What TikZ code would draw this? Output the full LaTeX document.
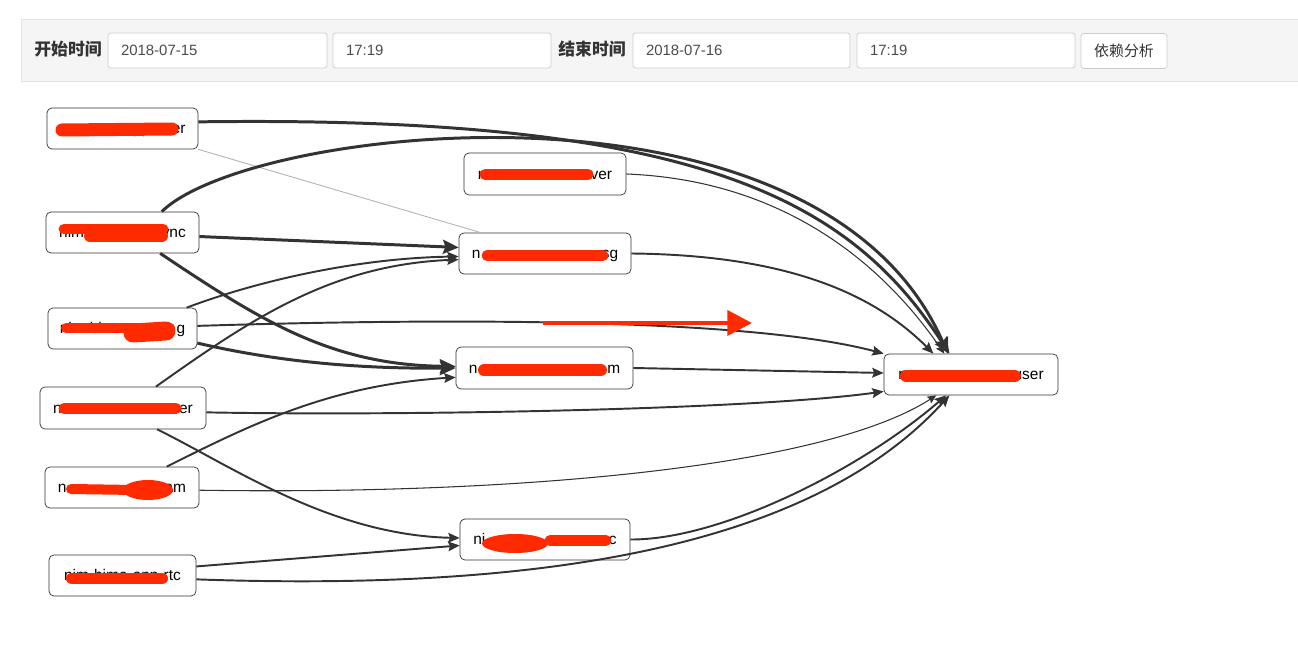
\documentclass[tikz,border=0pt]{standalone}
\usepackage{fontspec}
\setmainfont{Liberation Sans}
\newfontfamily\cjk{Noto Sans CJK SC}
\usetikzlibrary{arrows.meta}
\definecolor{ink}{RGB}{51,51,51}
\definecolor{redact}{RGB}{255,42,0}
\definecolor{barbg}{RGB}{245,245,245}
\definecolor{barline}{RGB}{227,227,227}
\definecolor{fieldline}{RGB}{204,204,204}
\begin{document}
\begin{tikzpicture}[x=0.02cm,y=-0.02cm,
    svc/.style={draw=ink, rounded corners=2.8pt, inner sep=0pt, minimum height=0.82cm, text height=6.2pt, text depth=0pt, font=\fontsize{8.8}{10.5}\selectfont},
    field/.style={draw=fieldline, fill=white, rounded corners=1.5pt, minimum height=0.7cm, inner xsep=0.26cm, align=left, text=black!70, font=\fontsize{8.5}{10}\selectfont},
    caption/.style={text=ink, font=\cjk\bfseries\fontsize{9.6}{11}\selectfont},
    dep/.style={draw=ink, line width=1.1pt, -{Stealth[length=6.5pt,width=5.5pt,inset=1pt]}},
    heavy/.style={dep, line width=1.7pt, -{Stealth[length=9pt,width=8pt,inset=1.5pt]}},
    light/.style={dep, line width=0.6pt, -{Stealth[length=5pt,width=4.5pt,inset=0.8pt]}},
    blot/.style={draw=redact, line cap=round}]
  \useasboundingbox (0,0) rectangle (1298,648);
  \filldraw[fill=barbg, draw=barline] (21,19) rectangle (1320,81);
  \node[caption] (T0) at (68,49) {开始时间};
  \node[field, text width=3.86cm] (D0) at (217.5,50.5) {2018-07-15};
  \node[field, text width=3.84cm] (C0) at (442,50.5) {17:19};
  \node[caption] (T1) at (592,49) {结束时间};
  \node[field, text width=3.82cm] (D1) at (741.5,50.5) {2018-07-16};
  \node[field, text width=3.84cm] (C1) at (966,50.5) {17:19};
  \node[field, minimum width=1.72cm, inner xsep=0pt, align=center, text=ink, font=\cjk\fontsize{8.5}{10}\selectfont] (go) at (1124,51) {依赖分析};
  \node[svc, minimum width=3.02cm] (A0_0) at (122.5,128.5) {\hspace*{42pt}pp-user};
  \node[svc, minimum width=3.06cm] (A0_1) at (122.5,232.5) {nim\hspace*{39.8pt}sync};
  \node[svc, minimum width=2.98cm] (A0_2) at (122.5,328.5) {nim-bima\hspace*{30.3pt}g};
  \node[svc, minimum width=3.32cm, minimum height=0.84cm] (A0_3) at (123,408) {n\hspace*{66.7pt}er};
  \node[svc, minimum width=3.08cm] (A0_4) at (122,487.5) {n\hspace*{55.8pt}am};
  \node[svc, minimum width=2.94cm] (A0_5) at (122.5,575.5) {nim-bima-app-rtc};
  \node[svc, minimum width=3.24cm, minimum height=0.84cm] (A1_0) at (545,174) {n\hspace*{59.3pt}ver};
  \node[svc, minimum width=3.44cm] (A1_1) at (545,253.5) {n\hspace*{69.2pt}sg};
  \node[svc, minimum width=3.54cm, minimum height=0.84cm] (A1_2) at (544.5,368) {n\hspace*{73.9pt}m};
  \node[svc, minimum width=3.40cm] (A1_3) at (545,539.5) {ni\hspace*{70.3pt}c};
  \node[svc, minimum width=3.48cm] (A2_0) at (971,374.5) {n\hspace*{60.7pt}user};
  \draw[black!30, line width=0.5pt] (A0_0.south east) -- (A1_1.162);
  \draw[heavy] (A0_0.5) .. controls (700,115) and (850,200) .. (A2_0.136);
  \draw[heavy] (A0_1.28) .. controls (250,125) and (820,60) .. (A2_0.138);
  \path (A0_1.-3) edge [heavy] (A1_1.176);
  \draw[heavy] (A0_1.-29) .. controls (260,320) and (330,365) .. (A1_2.179);
  \draw[dep] (A0_2.18) .. controls (260,280) and (360,258) .. (A1_1.182);
  \draw[dep] (A0_2.2) .. controls (450,318) and (750,318) .. (A2_0.north west);
  \draw[heavy] (A0_2.-11) .. controls (270,360) and (350,369) .. (A1_2.west);
  \draw[dep] (A0_3.33) .. controls (250,320) and (330,265) .. (A1_1.184);
  \draw[dep] (A0_3.-3) .. controls (400,416) and (750,410) .. (A2_0.191);
  \draw[dep] (A0_3.-32) .. controls (230,465) and (330,535) .. (A1_3.179);
  \draw[dep] (A0_4.25) .. controls (250,425) and (330,385) .. (A1_2.186);
  \draw[light] (A0_4.-2) .. controls (500,495) and (820,470) .. (A2_0.211);
  \path (A0_5.7) edge [dep] (A1_3.184);
  \draw[dep] (A0_5.-3) .. controls (500,590) and (800,560) .. (A2_0.224);
  \draw[light] (A1_0.east) .. controls (780,180) and (880,260) .. (A2_0.142);
  \draw[dep] (A1_1.east) .. controls (780,255) and (870,290) .. (A2_0.151);
  \path (A1_2.east) edge [dep] (A2_0.179);
  \draw[dep] (A1_3.east) .. controls (720,540) and (860,470) .. (A2_0.220);
  \draw[blot, line width=7.4pt] (62,130) -- (172,129);
  \draw[blot, line width=6.2pt] (64,229) -- (163,229);
  \draw[blot, line width=6.8pt] (90,236) -- (162,236);
  \draw[blot, line width=5.7pt] (66,328) -- (170,328);
  \draw[blot, line width=10.8pt] (133,333) -- (166,331);
  \draw[blot, line width=6.2pt] (64,408.5) -- (176,408.5);
  \draw[blot, line width=5.7pt] (71,489) -- (135,490);
  \fill[redact] (148,490) ellipse [x radius=25, y radius=10];
  \draw[blot, line width=6.8pt] (72,578.5) -- (162,578.5);
  \draw[blot, line width=6.2pt] (485,174.5) -- (588,174.5);
  \draw[blot, line width=6.2pt] (487,255.5) -- (603,255.5);
  \draw[blot, line width=6.8pt] (484,370) -- (601,370);
  \fill[redact] (515,543.5) ellipse [x radius=33, y radius=9.5];
  \draw[blot, line width=6.2pt] (550,540.5) -- (606,540.5);
  \draw[blot, line width=6.8pt] (906,376) -- (1015,376);
  \coordinate (m0) at (543,323);
  \coordinate (m1) at (752,323);
  \draw[redact, line width=2.8pt, -{Triangle[length=14pt,width=14pt]}] (m0) -- (m1);
\end{tikzpicture}
\end{document}
